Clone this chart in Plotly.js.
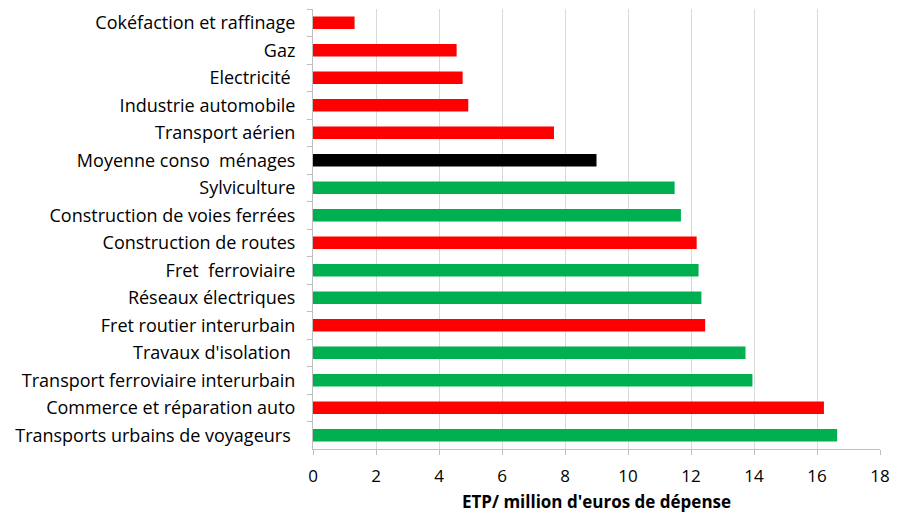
<!DOCTYPE html>
<html>
<head>
<meta charset="utf-8">
<script src="https://cdn.plot.ly/plotly-3.0.1.min.js"></script>
<style>html,body{margin:0;padding:0;background:#fff;}#chart{width:905px;height:513px;}</style>
</head>
<body>
<div id="chart"></div>
<script>
const categories = [
  "Cokéfaction et raffinage",
  "Gaz",
  "Electricité\u00a0",
  "Industrie automobile",
  "Transport aérien",
  "Moyenne conso\u00a0 ménages",
  "Sylviculture",
  "Construction de voies ferrées",
  "Construction de routes",
  "Fret\u00a0 ferroviaire",
  "Réseaux électriques",
  "Fret routier interurbain",
  "Travaux d'isolation\u00a0",
  "Transport ferroviaire interurbain",
  "Commerce et réparation auto",
  "Transports urbains de voyageurs\u00a0"
];
const values = [1.32, 4.56, 4.75, 4.93, 7.65, 9.0, 11.48, 11.68, 12.18, 12.24, 12.33, 12.45, 13.73, 13.95, 16.22, 16.64];
const groups = ["red","red","red","red","red","avg","green","green","red","green","green","red","green","green","red","green"];
const xTicks = [0, 2, 4, 6, 8, 10, 12, 14, 16, 18];
const xTitle = "ETP/ million d'euros de dépense";

const colorMap = {red: "#FF0000", green: "#00B050", avg: "#000000"};
const FONT = "'Open Sans', sans-serif";

const trace = {
  type: "bar",
  orientation: "h",
  y: categories,
  x: values,
  marker: {color: groups.map(g => colorMap[g]), line: {width: 0}},
  hoverinfo: "x+y"
};

const layout = {
  width: 905, height: 513,
  margin: {l: 313, r: 25, t: 9, b: 64},
  paper_bgcolor: "#fff", plot_bgcolor: "#fff",
  bargap: 0.55,
  showlegend: false,
  font: {family: FONT, size: 17, color: "#000"},
  xaxis: {
    range: [0, 18],
    tickvals: xTicks,
    ticktext: xTicks.map(String),
    showgrid: true, gridcolor: "#d9d9d9", gridwidth: 1,
    zeroline: false,
    showline: true, linecolor: "#bfbfbf", linewidth: 1,
    ticks: "outside", ticklen: 5, tickcolor: "#bfbfbf",
    ticklabelstandoff: 7,
    tickfont: {family: FONT, size: 17, color: "#000"},
    automargin: false,
    title: {text: "<b>" + xTitle + "</b>", font: {family: FONT, size: 17, color: "#000"}, standoff: 9}
  },
  yaxis: {
    type: "category",
    autorange: "reversed",
    showgrid: false, zeroline: false,
    showline: true, linecolor: "#bfbfbf", linewidth: 1,
    ticks: "outside", ticklen: 5, tickcolor: "#bfbfbf",
    tickson: "boundaries",
    ticklabelstandoff: 13,
    automargin: false,
    tickfont: {family: FONT, size: 18, color: "#000"}
  }
};

Plotly.newPlot("chart", [trace], layout, {displayModeBar: false, staticPlot: true});
</script>
</body>
</html>
